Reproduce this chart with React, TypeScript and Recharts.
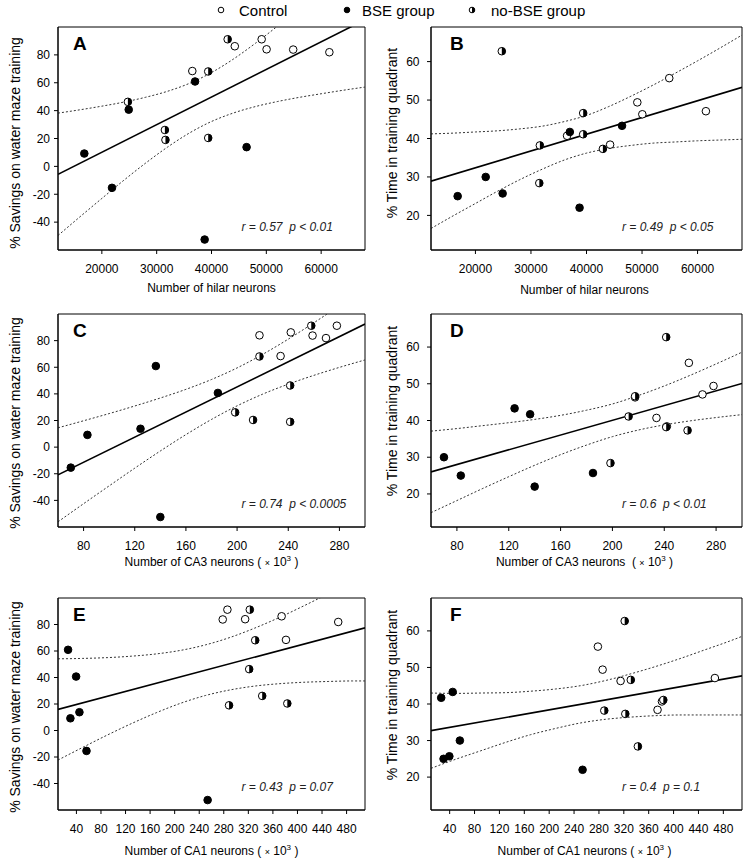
import {
  ComposedChart,
  Scatter,
  Line,
  XAxis,
  YAxis,
  ReferenceArea,
} from "recharts";

const FONT = '"Liberation Sans", Arial, Helvetica, sans-serif';

// per-animal values (6 animals per group)
const controlHilar = [36500, 44250, 49150, 50050, 54900, 61500];
const controlCA3 = [234, 242, 278, 217.5, 259, 269.5];
const controlCA1 = [381.3, 374.2, 285.9, 314.8, 278.3, 466.4];
const controlSavings = [68.4, 86.2, 91.2, 84.0, 83.8, 81.9];
const controlTime = [40.7, 38.4, 49.4, 46.3, 55.7, 47.1];

const bseHilar = [16800, 21850, 24900, 37000, 38750, 46400];
const bseCA3 = [83, 70, 185, 136.5, 140, 124.5];
const bseCA1 = [30.2, 56.4, 39.5, 26.4, 253.7, 44.9];
const bseSavings = [9.2, -15.4, 40.7, 60.9, -52.5, 13.8];
const bseTime = [25.0, 30.0, 25.7, 41.7, 22.0, 43.3];

const noBseHilar = [24750, 31500, 31600, 39400, 39400, 42950];
const noBseCA3 = [241.5, 198.5, 241.5, 217.5, 212.5, 258];
const noBseCA1 = [321.4, 342.6, 288.6, 331.2, 383.5, 322.4];
const noBseSavings = [46.3, 26.1, 19.0, 68.1, 20.4, 91.2];
const noBseTime = [62.7, 28.4, 38.2, 46.6, 41.1, 37.3];

// axis ticks
const hilarTicks = [20000, 30000, 40000, 50000, 60000];
const ca3Ticks = [80, 120, 160, 200, 240, 280];
const ca1Ticks = [40, 80, 120, 160, 200, 240, 280, 320, 360, 400, 440, 480];
const savingsTicks = [-40, -20, 0, 20, 40, 60, 80];
const timeTicks = [20, 30, 40, 50, 60];

// regression lines (end points) and 95% confidence bands
const hilarEnds = [12000, 68000];
const ca3Ends = [60, 300];
const ca1Ends = [10, 510];
const fitA = [-5.7, 105.2];
const fitB = [28.9, 53.3];
const fitC = [-20.8, 92.5];
const fitD = [26.0, 50.1];
const fitE = [15.9, 77.5];
const fitF = [32.7, 47.7];

const hilarGrid = [12000, 16000, 20000, 24000, 28000, 32000, 36000, 40000, 44000, 48000, 52000, 56000, 60000, 64000, 68000];
const upperA = [38.2, 40.6, 43.2, 46.1, 49.6, 53.9, 59.6, 67.3, 77.0, 88.3, 100.5, 113.3, 126.5, 140.0, 153.5];
const lowerA = [-49.6, -36.2, -23.0, -10.0, 2.4, 13.9, 24.0, 32.2, 38.3, 42.9, 46.5, 49.5, 52.1, 54.6, 56.9];
const upperB = [41.2, 41.4, 41.7, 42.0, 42.5, 43.2, 44.4, 46.0, 48.3, 51.0, 53.9, 57.0, 60.2, 63.5, 66.9];
const lowerB = [16.6, 19.9, 23.1, 26.3, 29.3, 32.0, 34.4, 36.2, 37.4, 38.2, 38.8, 39.1, 39.4, 39.6, 39.8];

const ca3Grid = [60, 80, 100, 120, 140, 160, 180, 200, 220, 240, 260, 280, 300];
const upperC = [14.5, 19.8, 25.2, 30.9, 36.9, 43.4, 50.8, 59.5, 69.7, 81.1, 93.4, 106.2, 119.4];
const lowerC = [-56.1, -42.5, -29.1, -15.8, -2.9, 9.4, 20.8, 31.0, 39.8, 47.3, 53.9, 59.9, 65.5];
const upperD = [37.1, 37.8, 38.6, 39.4, 40.3, 41.4, 42.8, 44.5, 46.8, 49.4, 52.3, 55.4, 58.6];
const lowerD = [14.9, 18.2, 21.5, 24.7, 27.8, 30.7, 33.3, 35.6, 37.4, 38.8, 39.9, 40.8, 41.6];

const ca1Grid = [10, 50, 90, 130, 170, 210, 250, 290, 330, 370, 410, 450, 490, 510];
const upperE = [54.1, 54.4, 55.0, 56.1, 57.8, 60.5, 64.6, 70.2, 77.2, 85.2, 94.0, 103.2, 112.7, 117.6];
const lowerE = [-22.3, -12.8, -3.5, 5.3, 13.4, 20.6, 26.4, 30.6, 33.5, 35.3, 36.4, 37.0, 37.4, 37.4];
const upperF = [43.0, 42.9, 43.0, 43.1, 43.5, 44.1, 45.0, 46.4, 48.2, 50.2, 52.4, 54.8, 57.2, 58.5];
const lowerF = [22.4, 24.9, 27.2, 29.5, 31.6, 33.3, 34.8, 35.8, 36.4, 36.8, 37.0, 37.0, 37.0, 37.0];

type Pt = { x: number; y: number };
const pts = (xs: number[], ys: number[]): Pt[] =>
  xs.map((x, i) => ({ x, y: ys[i] }));

const R = 3.8;

const OpenDot = (p: any) => (
  <circle cx={p.cx} cy={p.cy} r={R} fill="#fff" stroke="#000" strokeWidth={1} />
);
const FilledDot = (p: any) => (
  <circle cx={p.cx} cy={p.cy} r={R} fill="#000" stroke="#000" strokeWidth={1} />
);
const HalfDot = (p: any) => (
  <g>
    <circle cx={p.cx} cy={p.cy} r={R} fill="#fff" />
    <path
      d={`M${p.cx},${p.cy - R} A${R},${R} 0 0 1 ${p.cx},${p.cy + R} Z`}
      fill="#000"
    />
    <circle cx={p.cx} cy={p.cy} r={R} fill="none" stroke="#000" strokeWidth={1} />
  </g>
);

type PanelProps = {
  left: number;
  top: number;
  right: number;
  bottom: number;
  xDomain: [number, number];
  xTicks: number[];
  yDomain: [number, number];
  yTicks: number[];
  control: Pt[];
  bse: Pt[];
  noBse: Pt[];
  grid: number[];
  upper: number[];
  lower: number[];
  fitX: number[];
  fitY: number[];
  yGap: number;
};

const tickStyle = { fontSize: 12, fill: "#000", fontFamily: FONT };

const Panel = (p: PanelProps) => {
  const w = p.right - p.left + 65;
  const h = p.bottom - p.top + 35;
  return (
    <div style={{ position: "absolute", left: p.left - 60, top: p.top - 5 }}>
      <ComposedChart
        width={w}
        height={h}
        margin={{ top: 5, right: 5, bottom: 0, left: 0 }}
      >
        <XAxis
          type="number"
          dataKey="x"
          domain={p.xDomain}
          ticks={p.xTicks}
          interval={0}
          allowDataOverflow
          height={30}
          tickSize={4}
          tickMargin={10}
          tick={tickStyle}
          axisLine={{ stroke: "#000" }}
          tickLine={{ stroke: "#000" }}
        />
        <YAxis
          type="number"
          dataKey="y"
          domain={p.yDomain}
          ticks={p.yTicks}
          interval={0}
          allowDataOverflow
          width={60}
          tickSize={4}
          tickMargin={p.yGap}
          tick={tickStyle}
          axisLine={{ stroke: "#000" }}
          tickLine={{ stroke: "#000" }}
        />
        <Line
          key="upper"
          data={pts(p.grid, p.upper)}
          dataKey="y"
          type="monotone"
          stroke="#333"
          strokeWidth={1}
          strokeDasharray="2 2"
          dot={false}
          activeDot={false}
          isAnimationActive={false}
        />
        <Line
          key="lower"
          data={pts(p.grid, p.lower)}
          dataKey="y"
          type="monotone"
          stroke="#333"
          strokeWidth={1}
          strokeDasharray="2 2"
          dot={false}
          activeDot={false}
          isAnimationActive={false}
        />
        <Line
          key="fit"
          data={pts(p.fitX, p.fitY)}
          dataKey="y"
          type="linear"
          stroke="#000"
          strokeWidth={1.6}
          dot={false}
          activeDot={false}
          isAnimationActive={false}
        />
        <Scatter data={p.control} shape={OpenDot} isAnimationActive={false} />
        <Scatter data={p.bse} shape={FilledDot} isAnimationActive={false} />
        <Scatter data={p.noBse} shape={HalfDot} isAnimationActive={false} />
        <ReferenceArea
          x1={p.xDomain[0]}
          x2={p.xDomain[1]}
          y1={p.yDomain[0]}
          y2={p.yDomain[1]}
          fill="none"
          stroke="#000"
          strokeWidth={1}
          ifOverflow="visible"
        />
      </ComposedChart>
    </div>
  );
};

const colL = [58, 431];
const colR = [365, 742];
const rowT = [27, 314, 598];
const rowB = [250, 527, 810];

const letters = ["A", "B", "C", "D", "E", "F"];
const stats = [
  "r = 0.57  p < 0.01",
  "r = 0.49  p < 0.05",
  "r = 0.74  p < 0.0005",
  "r = 0.6  p < 0.01",
  "r = 0.43  p = 0.07",
  "r = 0.4  p = 0.1",
];
const yTitles = [
  "% Savings on water maze training",
  "% Time in training quadrant",
];
const xTitleBases = [
  "Number of hilar neurons",
  "Number of hilar neurons",
  "Number of CA3 neurons (",
  "Number of CA3 neurons  (",
  "Number of CA1 neurons (",
  "Number of CA1 neurons (",
];

const pre = { whiteSpace: "pre" as const };

const Overlay = () => {
  const yTitleX = [20, 397];
  const yTitleY = [
    [143, 133],
    [423, 411],
    [707, 695],
  ];
  const xTitleBase = [292, 565.5, 855];
  return (
    <svg
      width={747}
      height={861}
      fontFamily={FONT}
      style={{ position: "absolute", left: 0, top: 0, pointerEvents: "none" }}
    >
      {/* legend */}
      <circle cx={221} cy={10} r={2.8} fill="#fff" stroke="#000" strokeWidth={1} />
      <text x={239} y={16} fontSize={15}>Control</text>
      <circle cx={347} cy={10} r={2.8} fill="#000" stroke="#000" strokeWidth={1} />
      <text x={362} y={16} fontSize={15}>BSE group</text>
      <circle cx={472} cy={10} r={2.8} fill="#fff" />
      <path d="M472,7.2 A2.8,2.8 0 0 1 472,12.8 Z" fill="#000" />
      <circle cx={472} cy={10} r={2.8} fill="none" stroke="#000" strokeWidth={1} />
      <text x={491} y={16} fontSize={15}>no-BSE group</text>

      {letters.map((L, i) => {
        const col = i % 2;
        const row = Math.floor(i / 2);
        return (
          <g key={L}>
            <text x={col ? 450 : 73} y={rowT[row] + 23} fontSize={19} fontWeight="bold">
              {L}
            </text>
            <text
              x={col ? 622 : 241.5}
              y={rowB[row] - 19}
              fontSize={12}
              fontStyle="italic"
              fill="#222"
              xmlSpace="preserve"
              style={pre}
            >
              {stats[i]}
            </text>
            <text
              transform={`translate(${yTitleX[col]},${yTitleY[row][col]}) rotate(-90)`}
              textAnchor="middle"
              fontSize={14}
            >
              {yTitles[col]}
            </text>
            <text
              x={(colL[col] + colR[col]) / 2 - (col ? 2 : 0)}
              y={xTitleBase[row] + (row === 0 && col === 1 ? 1.5 : 0)}
              textAnchor="middle"
              fontSize={12}
              xmlSpace="preserve"
              style={pre}
            >
              {xTitleBases[i]}
              {row > 0 && (
                <>
                  {" "}
                  <tspan fontSize={9}>×</tspan>
                  {" 10"}
                  <tspan dy={-5} fontSize={8}>3</tspan>
                  <tspan dy={5}> )</tspan>
                </>
              )}
            </text>
          </g>
        );
      })}
    </svg>
  );
};

const control = {
  hilar: controlHilar,
  ca3: controlCA3,
  ca1: controlCA1,
};

export default function App() {
  const savDomain: [number, number] = [-60, 100];
  const timeDomain: [number, number] = [11, 69];
  const panels: PanelProps[] = [
    {
      left: colL[0], top: rowT[0], right: colR[0], bottom: rowB[0],
      xDomain: [12000, 68000], xTicks: hilarTicks, yDomain: savDomain, yTicks: savingsTicks,
      control: pts(control.hilar, controlSavings), bse: pts(bseHilar, bseSavings), noBse: pts(noBseHilar, noBseSavings),
      grid: hilarGrid, upper: upperA, lower: lowerA, fitX: hilarEnds, fitY: fitA, yGap: 4,
    },
    {
      left: colL[1], top: rowT[0], right: colR[1], bottom: rowB[0],
      xDomain: [12000, 68000], xTicks: hilarTicks, yDomain: timeDomain, yTicks: timeTicks,
      control: pts(control.hilar, controlTime), bse: pts(bseHilar, bseTime), noBse: pts(noBseHilar, noBseTime),
      grid: hilarGrid, upper: upperB, lower: lowerB, fitX: hilarEnds, fitY: fitB, yGap: 7.5,
    },
    {
      left: colL[0], top: rowT[1], right: colR[0], bottom: rowB[1],
      xDomain: [60, 300], xTicks: ca3Ticks, yDomain: savDomain, yTicks: savingsTicks,
      control: pts(control.ca3, controlSavings), bse: pts(bseCA3, bseSavings), noBse: pts(noBseCA3, noBseSavings),
      grid: ca3Grid, upper: upperC, lower: lowerC, fitX: ca3Ends, fitY: fitC, yGap: 4,
    },
    {
      left: colL[1], top: rowT[1], right: colR[1], bottom: rowB[1],
      xDomain: [60, 300], xTicks: ca3Ticks, yDomain: timeDomain, yTicks: timeTicks,
      control: pts(control.ca3, controlTime), bse: pts(bseCA3, bseTime), noBse: pts(noBseCA3, noBseTime),
      grid: ca3Grid, upper: upperD, lower: lowerD, fitX: ca3Ends, fitY: fitD, yGap: 7.5,
    },
    {
      left: colL[0], top: rowT[2], right: colR[0], bottom: rowB[2],
      xDomain: [10, 510], xTicks: ca1Ticks, yDomain: savDomain, yTicks: savingsTicks,
      control: pts(control.ca1, controlSavings), bse: pts(bseCA1, bseSavings), noBse: pts(noBseCA1, noBseSavings),
      grid: ca1Grid, upper: upperE, lower: lowerE, fitX: ca1Ends, fitY: fitE, yGap: 4,
    },
    {
      left: colL[1], top: rowT[2], right: colR[1], bottom: rowB[2],
      xDomain: [10, 510], xTicks: ca1Ticks, yDomain: timeDomain, yTicks: timeTicks,
      control: pts(control.ca1, controlTime), bse: pts(bseCA1, bseTime), noBse: pts(noBseCA1, noBseTime),
      grid: ca1Grid, upper: upperF, lower: lowerF, fitX: ca1Ends, fitY: fitF, yGap: 7.5,
    },
  ];
  return (
    <div
      style={{
        position: "absolute",
        left: 0,
        top: 0,
        width: 747,
        height: 861,
        background: "#fff",
        fontFamily: FONT,
      }}
    >
      {panels.map((p, i) => (
        <Panel key={i} {...p} />
      ))}
      <Overlay />
    </div>
  );
}
